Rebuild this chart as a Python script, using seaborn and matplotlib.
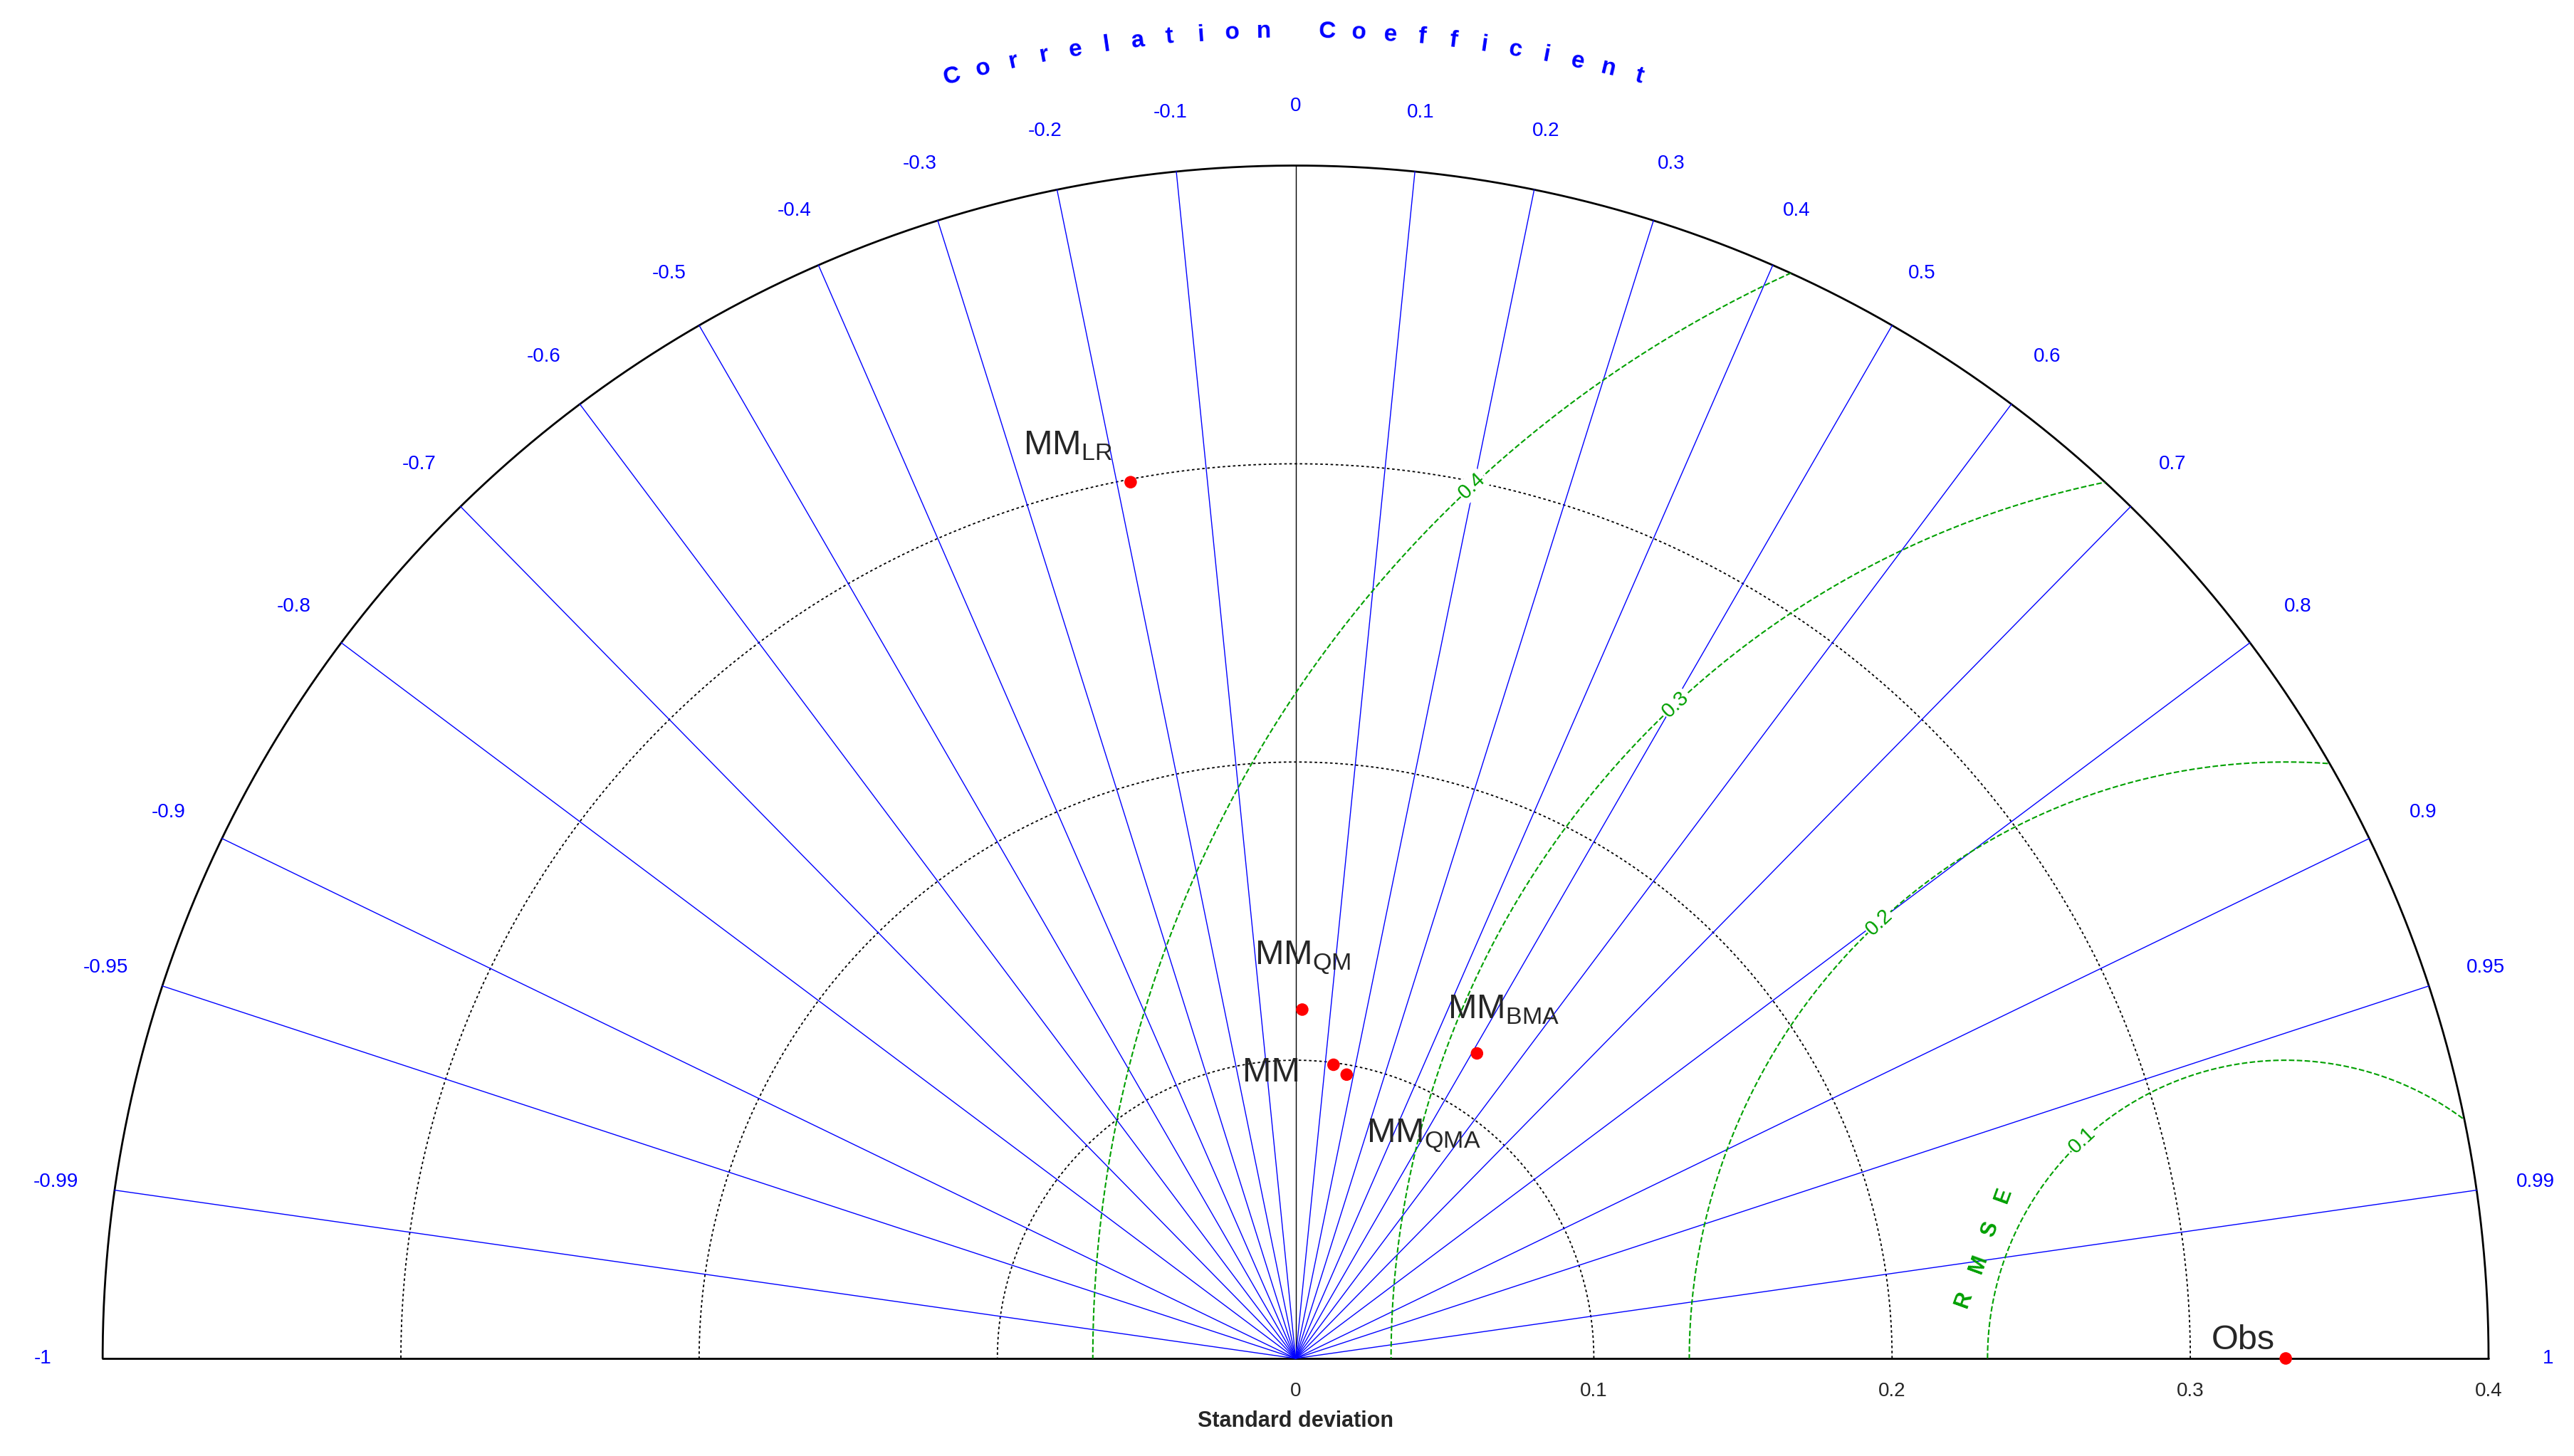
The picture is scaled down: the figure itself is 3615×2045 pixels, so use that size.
import numpy as np
import pandas as pd
import matplotlib.pyplot as plt
import seaborn as sns

sns.set_style("white")
plt.rcParams['font.family'] = ['Liberation Sans', 'DejaVu Sans']
plt.rcParams['mathtext.fontset'] = 'custom'
plt.rcParams['mathtext.rm'] = 'Liberation Sans'

# model statistics (std, correlation)
models = ['Obs', 'MM_LR', 'MM_QM', 'MM', 'MM_QMA', 'MM_BMA']
std_dev = [0.332, 0.299, 0.117, 0.0993, 0.0967, 0.119]
corr = [1.0, -0.185, 0.019, 0.128, 0.177, 0.511]
labels = ['Obs', r'$\mathrm{MM}_{\mathrm{LR}}$', r'$\mathrm{MM}_{\mathrm{QM}}$', 'MM',
          r'$\mathrm{MM}_{\mathrm{QMA}}$', r'$\mathrm{MM}_{\mathrm{BMA}}$']
# label anchors in reference pixel coords (display scale)
label_px = [(1340, 812), (620, 270), (760, 580), (753, 650), (828, 688), (877, 612)]

corr_ticks = [-1, -0.99, -0.95, -0.9, -0.8, -0.7, -0.6, -0.5, -0.4, -0.3, -0.2, -0.1, 0,
              0.1, 0.2, 0.3, 0.4, 0.5, 0.6, 0.7, 0.8, 0.9, 0.95, 0.99, 1]
std_ticks = [0, 0.1, 0.2, 0.3, 0.4]
rmse_levels = [0.1, 0.2, 0.3, 0.4]
rmax = 0.4

def px(p):
    return ((p[0] - 785) / 1807, (823 - p[1]) / 1807)

df = pd.DataFrame({'model': models,
                   'x': np.array(std_dev) * np.array(corr),
                   'y': np.array(std_dev) * np.sin(np.arccos(corr))})

fig = plt.figure(figsize=(36.16, 20.45), dpi=100)
ax = fig.add_axes([0, 0, 1, 1])
ax.set_xlim(-785 / 1807, (1560 - 785) / 1807)
ax.set_ylim((823 - 882) / 1807, 823 / 1807)
ax.set_aspect('equal')
ax.axis('off')

th = np.linspace(0, np.pi, 500)
# std circles
for r in std_ticks[1:-1]:
    ax.plot(r * np.cos(th), r * np.sin(th), color='black', ls=(0, (2, 2)), lw=1.3)
ax.plot(rmax * np.cos(th), rmax * np.sin(th), color='black', lw=2)
ax.plot([-rmax, rmax], [0, 0], color='black', lw=2)

# correlation rays and labels
for c in corr_ticks:
    a = np.arccos(c)
    if abs(c) < 1:
        ax.plot([0, rmax * np.cos(a)], [0, rmax * np.sin(a)],
                color='black' if c == 0 else 'blue', lw=1.0)
    ax.text(0.42 * np.cos(a), 0.42 * np.sin(a), f'{c:g}', color='blue', fontsize=20,
            ha='center', va='center')

# curved title
title = 'Correlation Coefficient'
angs = np.linspace(np.radians(105), np.radians(75), len(title))
for ch, a in zip(title, angs):
    ax.text(0.445 * np.cos(a), 0.445 * np.sin(a), ch, color='blue', fontsize=24,
            fontweight='bold', ha='center', va='center', rotation=np.degrees(a) - 90)

# RMSE contours centred on obs
ox = std_dev[0]
clip = plt.Polygon(np.column_stack([rmax * np.cos(th), rmax * np.sin(th)]), closed=True,
                   transform=ax.transData, fill=False, lw=0)
ax.add_patch(clip)
for r in rmse_levels:
    tt = np.linspace(0, np.pi, 500)
    line, = ax.plot(ox + r * np.cos(tt), r * np.sin(tt), color='#00a000', ls='--', lw=1.5)
    line.set_clip_path(clip)
    a = np.radians(133)
    ax.text(ox + r * np.cos(a), r * np.sin(a), f'{r:g}', color='#00a000', fontsize=21,
            rotation=43, ha='center', va='center',
            bbox=dict(facecolor='white', edgecolor='none', pad=1))
for ch, p in zip('RMSE', [(1190, 787), (1199, 766), (1206, 745), (1214, 724)]):
    x, y = px(p)
    ax.text(x, y, ch, color='#00a000', fontsize=22, fontweight='bold', rotation=70,
            ha='center', va='center')

# std axis labels
for s in std_ticks:
    ax.text(s, -0.011, f'{s:g}', fontsize=20, ha='center', va='center')
ax.text(0, -0.021, 'Standard deviation', fontsize=22, fontweight='bold', ha='center', va='center')

sns.scatterplot(data=df, x='x', y='y', color='red', s=160, edgecolor='none', ax=ax, zorder=5)
for lab, p in zip(labels, label_px):
    x, y = px(p)
    ax.text(x, y, lab, fontsize=35, ha='left', va='center', zorder=6)

ax.set_xlabel('')
ax.set_ylabel('')
fig.savefig('out.png', dpi=100, facecolor='white')
